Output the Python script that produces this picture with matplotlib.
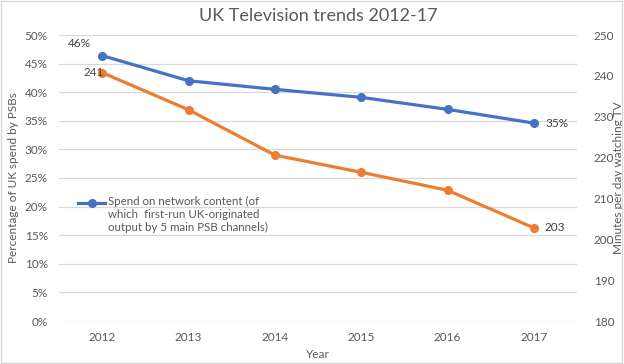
import matplotlib.pyplot as plt
import matplotlib.ticker as mticker
from matplotlib.patches import Rectangle

years = ["2012", "2013", "2014", "2015", "2016", "2017"]
spend_pct = [46.4, 42.0, 40.5, 39.1, 37.0, 34.6]
minutes_tv = [240.8, 231.7, 220.6, 216.4, 212.0, 202.8]
legend_label = "Spend on network content (of\nwhich  first-run UK-originated\noutput by 5 main PSB channels)"

blue = "#4472C4"
orange = "#ED7D31"
txt = "#595959"

plt.rcParams['font.family'] = ['Lato', 'DejaVu Sans']

fig = plt.figure(figsize=(6.24, 3.64), dpi=100)
ax = fig.add_axes([59/624, 43/364, 518/624, 286/364])
ax2 = ax.twinx()

x = list(range(len(years)))
ax.plot(x, spend_pct, color=blue, lw=2.3, marker='o', ms=5.5, zorder=3)
ax2.plot(x, minutes_tv, color=orange, lw=2.3, marker='o', ms=5.5, zorder=3)

ax.set_xlim(-0.5, len(years) - 0.5)
ax.set_ylim(0, 50)
ax.yaxis.set_major_locator(mticker.MultipleLocator(5))
ax.yaxis.set_major_formatter(mticker.FuncFormatter(lambda v, p: f"{v:.0f}%"))
ax2.set_ylim(180, 250)
ax2.yaxis.set_major_locator(mticker.MultipleLocator(10))
ax.set_xticks(x)
ax.set_xticklabels(years)

ax.grid(axis='y', color='#d9d9d9', lw=0.9)
ax.set_axisbelow(True)
for a in (ax, ax2):
    for s in a.spines.values():
        s.set_visible(False)
    a.tick_params(length=0, labelsize=8.5, colors=txt)
ax.tick_params(axis='y', pad=8)
ax.tick_params(axis='x', pad=8)
ax2.tick_params(axis='y', pad=12)

ax.set_xlabel("Year", fontsize=8.5, color=txt, labelpad=4)
ax.set_ylabel("Percentage of UK spend by PSBs", fontsize=8.5, color=txt, labelpad=4)
ax2.set_ylabel("Minutes per day watching TV", fontsize=8.5, color=txt)
ax2.yaxis.set_label_coords(1.07, 0.5)
ax.set_title("UK Television trends 2012-17", fontsize=13, color=txt, pad=10)

# data labels
ax.annotate(f"{spend_pct[0]:.0f}%", (x[0], spend_pct[0]), xytext=(-8, 5),
            textcoords='offset points', ha='right', va='bottom', fontsize=8.5, color='#404040')
ax.annotate(f"{spend_pct[-1]:.0f}%", (x[-1], spend_pct[-1]), xytext=(8, 0),
            textcoords='offset points', ha='left', va='center', fontsize=8.5, color='#404040')
ax2.annotate(f"{minutes_tv[0]:.0f}", (x[0], minutes_tv[0]), xytext=(1, 0),
             textcoords='offset points', ha='right', va='center', fontsize=8.5, color='#404040')
ax2.annotate(f"{minutes_tv[-1]:.0f}", (x[-1], minutes_tv[-1]), xytext=(8, 0),
             textcoords='offset points', ha='left', va='center', fontsize=8.5, color='#404040')

# legend (only the blue series), drawn by hand so the handle sits on the first line
ax.plot([0.037, 0.089], [0.413, 0.413], transform=ax.transAxes, color=blue, lw=2.3, zorder=4)
ax.plot([0.063], [0.413], transform=ax.transAxes, color=blue, marker='o', ms=5.5, zorder=4)
ax.text(0.094, 0.438, legend_label, transform=ax.transAxes, ha='left', va='top',
        fontsize=8.3, color=txt, linespacing=1.25)

fig.patches.append(Rectangle((0.002, 0.003), 0.995, 0.994, transform=fig.transFigure,
                             fill=False, edgecolor='#d9d9d9', lw=1))

fig.savefig("out.png", dpi=100)
